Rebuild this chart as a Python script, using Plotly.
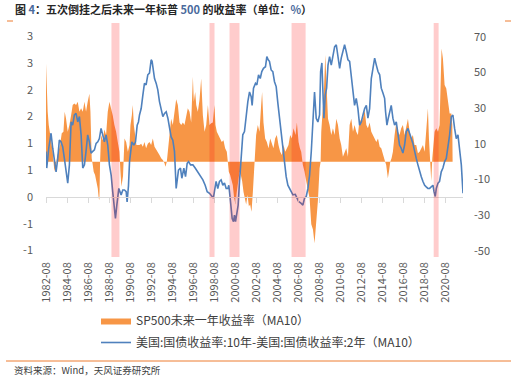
import numpy as np
import pandas as pd
import plotly.graph_objects as go

# ---------------- data (decimal years) ----------------
spread_t = [1982.57, 1982.64, 1982.83, 1983.05, 1983.21, 1983.37, 1983.53, 1983.69, 1983.84, 1984.00,
            1984.16, 1984.32, 1984.48, 1984.64, 1984.80, 1984.96, 1985.11, 1985.27, 1985.43, 1985.59,
            1985.75, 1985.91, 1986.07, 1986.23, 1986.38, 1986.54, 1986.70, 1986.86, 1987.02, 1987.18,
            1987.34, 1987.50, 1987.65, 1987.81, 1987.97, 1988.13, 1988.29, 1988.45, 1988.61, 1988.77,
            1988.92, 1989.08, 1989.18, 1989.31, 1989.50, 1989.72, 1989.88, 1990.04, 1990.20, 1990.29,
            1990.42, 1990.52, 1990.61, 1990.74, 1990.93, 1991.09, 1991.25, 1991.37, 1991.47, 1991.63,
            1991.79, 1991.94, 1992.10, 1992.26, 1992.42, 1992.58, 1992.67, 1992.80, 1992.90, 1993.06,
            1993.21, 1993.37, 1993.53, 1993.69, 1993.85, 1994.01, 1994.17, 1994.33, 1994.48, 1994.64,
            1994.80, 1994.96, 1995.06, 1995.18, 1995.37, 1995.50, 1995.69, 1995.85, 1996.01, 1996.14,
            1996.33, 1996.55, 1996.77, 1997.02, 1997.28, 1997.50, 1997.72, 1997.91, 1998.13, 1998.36,
            1998.50, 1998.60, 1998.76, 1998.92, 1999.08, 1999.24, 1999.40, 1999.56, 1999.72, 1999.88,
            1999.97, 2000.10, 2000.19, 2000.29, 2000.42, 2000.51, 2000.61, 2000.73, 2000.86, 2000.99,
            2001.15, 2001.30, 2001.46, 2001.62, 2001.78, 2001.94, 2002.10, 2002.19, 2002.32, 2002.51,
            2002.64, 2002.80, 2002.96, 2003.11, 2003.27, 2003.46, 2003.59, 2003.72, 2003.84, 2004.00,
            2004.16, 2004.32, 2004.48, 2004.64, 2004.80, 2004.96, 2005.11, 2005.27, 2005.43, 2005.59,
            2005.75, 2005.91, 2006.07, 2006.30, 2006.45, 2006.60, 2006.86, 2007.02, 2007.18, 2007.34,
            2007.50, 2007.66, 2007.82, 2007.98, 2008.13, 2008.29, 2008.45, 2008.61, 2008.71, 2008.83,
            2008.93, 2009.02, 2009.15, 2009.28, 2009.41, 2009.56, 2009.72, 2009.88, 2010.04, 2010.20,
            2010.36, 2010.52, 2010.67, 2010.83, 2010.99, 2011.15, 2011.31, 2011.47, 2011.63, 2011.79,
            2011.94, 2012.10, 2012.26, 2012.42, 2012.58, 2012.74, 2012.90, 2013.06, 2013.21, 2013.37,
            2013.53, 2013.69, 2013.85, 2014.01, 2014.17, 2014.33, 2014.48, 2014.64, 2014.80, 2014.89,
            2015.02, 2015.15, 2015.27, 2015.43, 2015.59, 2015.75, 2015.91, 2016.07, 2016.22, 2016.38,
            2016.54, 2016.70, 2016.86, 2017.02, 2017.18, 2017.34, 2017.49, 2017.65, 2017.81, 2017.97,
            2018.13, 2018.29, 2018.45, 2018.61, 2018.76, 2018.92, 2019.08, 2019.24, 2019.40, 2019.50,
            2019.62, 2019.72, 2019.88, 2020.03, 2020.19, 2020.35, 2020.51, 2020.67, 2020.83, 2020.99,
            2021.15, 2021.30, 2021.46, 2021.62, 2021.78, 2021.94, 2022.10, 2022.26]
spread_10y2y = [0.85, 0.54, 0.91, 1.19, 0.91, 0.72, 0.47, 0.72, 1.06, 1.03,
                0.94, 0.72, 0.47, 0.26, 0.60, 1.40, 1.34, 1.53, 1.56, 1.40,
                1.50, 1.16, 0.54, 0.60, 0.85, 1.16, 1.03, 0.82, 0.85, 0.88,
                1.00, 1.03, 1.09, 1.28, 1.16, 1.03, 1.16, 0.97, 0.60, 0.41,
                0.10, -0.21, -0.40, -0.15, 0.16, 0.04, 0.13, 0.13, 0.10, -0.09,
                0.21, 0.66, 0.85, 1.03, 0.97, 1.03, 1.34, 1.40, 1.53, 1.65,
                1.90, 2.12, 2.09, 2.28, 2.31, 2.56, 2.53, 2.34, 2.21, 2.12,
                2.00, 1.78, 1.65, 1.50, 1.56, 1.59, 1.47, 1.28, 1.12, 1.06,
                0.85, 0.16, 0.35, 0.50, 0.54, 0.35, 0.54, 0.38, 0.63, 0.66,
                0.60, 0.60, 0.54, 0.47, 0.38, 0.32, 0.22, 0.10, 0.07, 0.01,
                -0.02, 0.10, 0.29, 0.16, 0.29, 0.32, 0.22, 0.26, 0.16, 0.16,
                0.22, -0.02, -0.18, -0.40, -0.46, -0.34, -0.46, -0.27, -0.15, 0.29,
                0.72, 1.16, 1.22, 1.56, 1.78, 1.96, 1.87, 1.71, 2.03, 2.12,
                2.09, 2.28, 2.21, 2.34, 2.40, 2.43, 2.62, 2.56, 2.53, 2.37,
                2.34, 2.15, 2.06, 1.75, 1.47, 1.12, 0.88, 0.60, 0.38, 0.22,
                0.16, 0.10, 0.04, 0.05, -0.02, -0.08, -0.12, -0.15, -0.02, 0.01,
                0.16, 0.41, 0.85, 1.40, 1.96, 1.47, 1.40, 1.53, 2.34, 2.50,
                2.09, 1.47, 1.90, 2.03, 2.46, 2.62, 2.46, 2.62, 2.80, 2.84,
                2.65, 2.40, 2.59, 2.71, 2.84, 2.71, 2.56, 2.53, 2.21, 1.96,
                1.71, 1.84, 1.65, 1.34, 1.40, 1.53, 1.65, 1.71, 1.47, 1.65,
                2.21, 2.40, 2.59, 2.46, 2.34, 2.28, 2.03, 1.94, 1.84, 1.59,
                1.34, 1.47, 1.59, 1.71, 1.47, 1.34, 1.40, 1.16, 0.97, 0.91,
                0.82, 0.97, 1.22, 1.28, 1.16, 1.09, 1.00, 0.82, 0.72, 0.60,
                0.47, 0.38, 0.29, 0.22, 0.19, 0.16, 0.16, 0.19, 0.22, 0.10,
                0.01, 0.16, 0.26, 0.29, 0.47, 0.54, 0.66, 0.72, 0.91, 1.16,
                1.50, 1.53, 1.28, 1.09, 1.16, 0.85, 0.60, 0.07]

sp500_t = [1982.57, 1982.64, 1982.73, 1982.83, 1982.96, 1983.08, 1983.21, 1983.34, 1983.43, 1983.53,
           1983.62, 1983.75, 1983.91, 1984.07, 1984.23, 1984.35, 1984.48, 1984.64, 1984.80, 1984.96,
           1985.11, 1985.27, 1985.43, 1985.59, 1985.75, 1985.91, 1986.07, 1986.23, 1986.38, 1986.54,
           1986.70, 1986.80, 1986.92, 1987.02, 1987.11, 1987.24, 1987.37, 1987.50, 1987.59, 1987.65,
           1987.72, 1987.81, 1987.97, 1988.13, 1988.29, 1988.45, 1988.61, 1988.77, 1988.92, 1989.08,
           1989.24, 1989.40, 1989.56, 1989.65, 1989.75, 1989.90, 1990.00, 1990.04, 1990.20, 1990.36,
           1990.52, 1990.61, 1990.74, 1990.83, 1990.93, 1991.06, 1991.18, 1991.31, 1991.47, 1991.63,
           1991.79, 1991.94, 1992.10, 1992.26, 1992.42, 1992.58, 1992.74, 1992.90, 1993.06, 1993.21,
           1993.37, 1993.53, 1993.69, 1993.85, 1993.94, 1994.07, 1994.17, 1994.33, 1994.48, 1994.64,
           1994.80, 1994.96, 1995.12, 1995.28, 1995.44, 1995.60, 1995.75, 1995.91, 1996.07, 1996.23,
           1996.39, 1996.55, 1996.64, 1996.77, 1996.87, 1997.02, 1997.18, 1997.34, 1997.50, 1997.66,
           1997.82, 1997.98, 1998.13, 1998.29, 1998.45, 1998.60, 1998.70, 1998.83, 1998.99, 1999.15,
           1999.30, 1999.46, 1999.62, 1999.78, 1999.88, 1999.97, 2000.10, 2000.22, 2000.35, 2000.48,
           2000.61, 2000.73, 2000.86, 2000.99, 2001.11, 2001.24, 2001.37, 2001.49, 2001.62, 2001.75,
           2001.88, 2002.00, 2002.13, 2002.26, 2002.38, 2002.48, 2002.57, 2002.73, 2002.89, 2003.05,
           2003.14, 2003.27, 2003.43, 2003.59, 2003.75, 2003.91, 2004.07, 2004.22, 2004.38, 2004.54,
           2004.70, 2004.86, 2005.02, 2005.18, 2005.34, 2005.50, 2005.65, 2005.81, 2005.97, 2006.13,
           2006.32, 2006.45, 2006.61, 2006.74, 2006.86, 2007.02, 2007.18, 2007.34, 2007.50, 2007.66,
           2007.82, 2007.98, 2008.13, 2008.29, 2008.45, 2008.61, 2008.71, 2008.77, 2008.93, 2009.02,
           2009.15, 2009.25, 2009.41, 2009.56, 2009.72, 2009.88, 2010.04, 2010.20, 2010.36, 2010.52,
           2010.67, 2010.83, 2010.99, 2011.15, 2011.31, 2011.47, 2011.63, 2011.79, 2011.94, 2012.10,
           2012.26, 2012.42, 2012.58, 2012.74, 2012.90, 2013.06, 2013.21, 2013.37, 2013.53, 2013.69,
           2013.85, 2014.01, 2014.17, 2014.33, 2014.48, 2014.64, 2014.80, 2014.95, 2015.11, 2015.21,
           2015.34, 2015.46, 2015.59, 2015.75, 2015.91, 2016.07, 2016.22, 2016.38, 2016.54, 2016.70,
           2016.86, 2017.02, 2017.18, 2017.34, 2017.49, 2017.65, 2017.81, 2017.97, 2018.13, 2018.29,
           2018.45, 2018.61, 2018.76, 2018.92, 2019.02, 2019.15, 2019.24, 2019.34, 2019.46, 2019.56,
           2019.72, 2019.88, 2020.03, 2020.13, 2020.22, 2020.35, 2020.51, 2020.67, 2020.83, 2020.99,
           2021.15, 2021.24, 2021.27]
sp500_next_year = [55, 39, 28, 20.5, 15, 13, 5.6, -3.7, -5.6, -1.9,
                   2.8, 5.6, 9.3, 15.9, 16.8, 28, 24, 16.8, 20.5, 26,
                   31.7, 32.6, 31.7, 33.6, 28, 29.9, 28, 33.6, 28, 33.6,
                   38, 28, 1.9, -1.9, -5.6, -7.5, -11, -15, -20.5, -21.5,
                   0, 15, 12, 18, 15, 28, 33.6, 30, 26, 20.5,
                   16.8, 11, 5.6, -5, -14, -8, 3, 13, 11, 5.6,
                   9.3, 20.5, 26, 31.7, 20.5, 15, 9.3, 9.3, 9.3, 10,
                   8.4, 11, 7.5, 10, 11, 9.3, 13, 8.4, 6.5, 4.7,
                   3.7, 1.9, 0.9, -0.9, -2.8, 0, 5.6, 16.8, 24, 20.5,
                   28, 35, 31.7, 22, 20.5, 22, 20.5, 26, 29.9, 28,
                   22, 47.6, 33.6, 39, 31.7, 28, 34.5, 46.6, 26, 16.8,
                   20.5, 31.7, 20.5, 21.5, 22, 31.7, 20.5, 16.8, 15, 13,
                   11, 12, 7.5, 5.6, 0, -5.6, -7.5, -11, -13, -20.5,
                   -24, -17, -9.3, -5.6, -7.5, -11, -17, -20.5, -24, -18.7,
                   -25, -24, -28, -17, -5.6, 1.9, 15, 20.5, 16.8, 31.7,
                   39, 22, 13, 11, 7.5, 13, 9.3, 7.5, 13, 15,
                   9.3, 5.6, 3.7, 9.3, 5.6, 7.5, 9.3, 15, 13, 18.7,
                   15, 22, 11, 7.5, 5.6, -1.9, -5.6, -11, -15, -20.5,
                   -35, -38, -45.7, -33.6, -22, -3.7, 0, 16.8, 29.9, 39,
                   59.7, 48.5, 24, 20.5, 15, 18.7, 15, 24, 20.5, 13,
                   9.3, 2.8, 5.6, 7.5, 2.8, 20.5, 24, 16.8, 20.5, 16.8,
                   15, 24, 22, 24, 29, 20.5, 18.7, 22, 16.8, 15,
                   13, 11, 13, 8.4, 7.5, 3.7, 0.9, -1.9, -9.3, -5.6,
                   0, 1.9, 5.6, 15, 22, 16.8, 15, 18.7, 20.5, 15,
                   18.7, 24, 16.8, 13, 15, 9.3, 9.3, 4.7, 5.6, 7.5,
                   9.3, 5.6, 18.7, 29.9, 13, 1.9, -11, 1.9, 11, 16.8,
                   18.7, 16.8, 20.5, 43, 63.4, 57.8, 43, 41, 34.5, 27,
                   27, 20.5, 0]

# yield-curve inversion windows (decimal years)
inversion_start = [1988.80, 1998.13, 2000.04, 2005.94, 2019.47]
inversion_end = [1989.56, 1998.61, 2000.99, 2007.28, 2019.94]

left_tick_vals = [-1, -0.5, 0, 0.5, 1, 1.5, 2, 2.5, 3]
left_tick_text = ["-1", "-1", "0", "1", "1", "2", "2", "3", "3"]
right_tick_vals = [-50, -30, -10, 10, 30, 50, 70]
right_tick_text = ["-50", "-30", "-10", "10", "30", "50", "70"]

name_sp500 = "SP500未来一年收益率（MA10）"
name_spread = "美国:国债收益率:10年-美国:国债收益率:2年（MA10）"
title_html = ("<b>图 <span style='color:#4a6a9c'>4</span>：五次倒挂之后未来一年标普 "
              "<span style='color:#4a6a9c'>500</span> 的收益率（单位：<span style='color:#4a6a9c'>%</span>）</b>")
source_text = "资料来源：Wind，天风证券研究所"


def to_ts(t):
    y = int(np.floor(t))
    return pd.Timestamp(f"{y}-01-01") + pd.Timedelta(days=(t - y) * 365.25)


spread_dates = [to_ts(t) for t in spread_t]
sp500_dates = [to_ts(t) for t in sp500_t]

FONT = "Noto Sans CJK SC, Noto Sans, DejaVu Sans, sans-serif"
W, H = 526, 376
ML, MR, MT, MB = 46, 63, 23, 119
PW, PH = W - ML - MR, H - MT - MB


def px_x(px):
    return (px - ML) / PW


def px_y(py):
    return (H - MB - py) / PH


x_range = [spread_dates[0], spread_dates[-1]]

fig = go.Figure()
fig.add_trace(go.Scatter(
    x=sp500_dates, y=sp500_next_year, mode="lines", fill="tozeroy",
    fillcolor="#F79646", line=dict(color="#F79646", width=0),
    name=name_sp500, xaxis="x", yaxis="y", legendgroup="a"))
fig.add_trace(go.Scatter(
    x=spread_dates, y=spread_10y2y, mode="lines",
    line=dict(color="#4F81BD", width=1.6),
    name=name_spread, xaxis="x2", yaxis="y2", legendgroup="b"))

shapes = []
for s, e in zip(inversion_start, inversion_end):
    shapes.append(dict(type="rect", xref="x", yref="paper", x0=to_ts(s), x1=to_ts(e),
                       y0=0, y1=1, fillcolor="rgba(255,0,0,0.2)", line=dict(width=0),
                       layer="above"))
# report decoration lines
shapes.append(dict(type="line", xref="paper", yref="paper", x0=px_x(6), x1=px_x(511),
                   y0=px_y(361), y1=px_y(361), line=dict(color="#ED7D31", width=1)))
shapes.append(dict(type="line", xref="paper", yref="paper", x0=px_x(7), x1=px_x(13),
                   y0=px_y(21), y1=px_y(21), line=dict(color="#ED7D31", width=1)))
shapes.append(dict(type="line", xref="paper", yref="paper", x0=px_x(505), x1=px_x(511),
                   y0=px_y(21), y1=px_y(21), line=dict(color="#ED7D31", width=1)))

tickfont = dict(family=FONT, size=11, color="#595959")

fig.update_layout(
    width=W, height=H, margin=dict(l=ML, r=MR, t=MT, b=MB),
    paper_bgcolor="white", plot_bgcolor="white",
    font=dict(family=FONT, color="#404040"),
    shapes=shapes,
    showlegend=True,
    legend=dict(x=px_x(96), y=px_y(306), xanchor="left", yanchor="top",
                orientation="v", font=dict(family=FONT, size=12, color="#404040"),
                bgcolor="rgba(0,0,0,0)", tracegroupgap=3, itemwidth=30),
    xaxis=dict(type="date", range=x_range, anchor="y", showline=False, ticks="",
               showgrid=False, zeroline=False, tickangle=-90, tickformat="%Y-%m",
               dtick="M24", tick0="1982-08-01", tickfont=tickfont, ticklabelstandoff=2),
    xaxis2=dict(type="date", range=x_range, overlaying="x", anchor="free",
                position=px_y(197), showline=True, linecolor="#D9D9D9", linewidth=1,
                ticks="outside", ticklen=5, tickcolor="#D9D9D9", tickwidth=1,
                dtick="M24", tick0="1982-08-01", showticklabels=False,
                showgrid=False, zeroline=False),
    yaxis=dict(range=[-53.36, 77.66],
               side="right", anchor="x", tickvals=right_tick_vals, ticktext=right_tick_text,
               showgrid=False, zeroline=False, showline=False, ticks="",
               tickfont=tickfont, ticklabelstandoff=10),
    yaxis2=dict(range=[-1.119, 3.246], overlaying="y", side="left", anchor="x",
                tickvals=left_tick_vals, ticktext=left_tick_text,
                showgrid=False, zeroline=False, showline=False, ticks="",
                tickfont=tickfont, ticklabelstandoff=12),
    annotations=[
        dict(text=title_html, xref="paper", yref="paper", x=px_x(13), y=px_y(9),
             xanchor="left", yanchor="middle", showarrow=False,
             font=dict(family=FONT, size=11, color="#262626")),
        dict(text=source_text, xref="paper", yref="paper", x=px_x(12), y=px_y(370),
             xanchor="left", yanchor="middle", showarrow=False,
             font=dict(family=FONT, size=9.5, color="#404040")),
    ],
)

fig.write_html("out.html", config={"displayModeBar": False},
               post_script="document.body.style.margin='0';document.body.style.overflow='hidden';")
